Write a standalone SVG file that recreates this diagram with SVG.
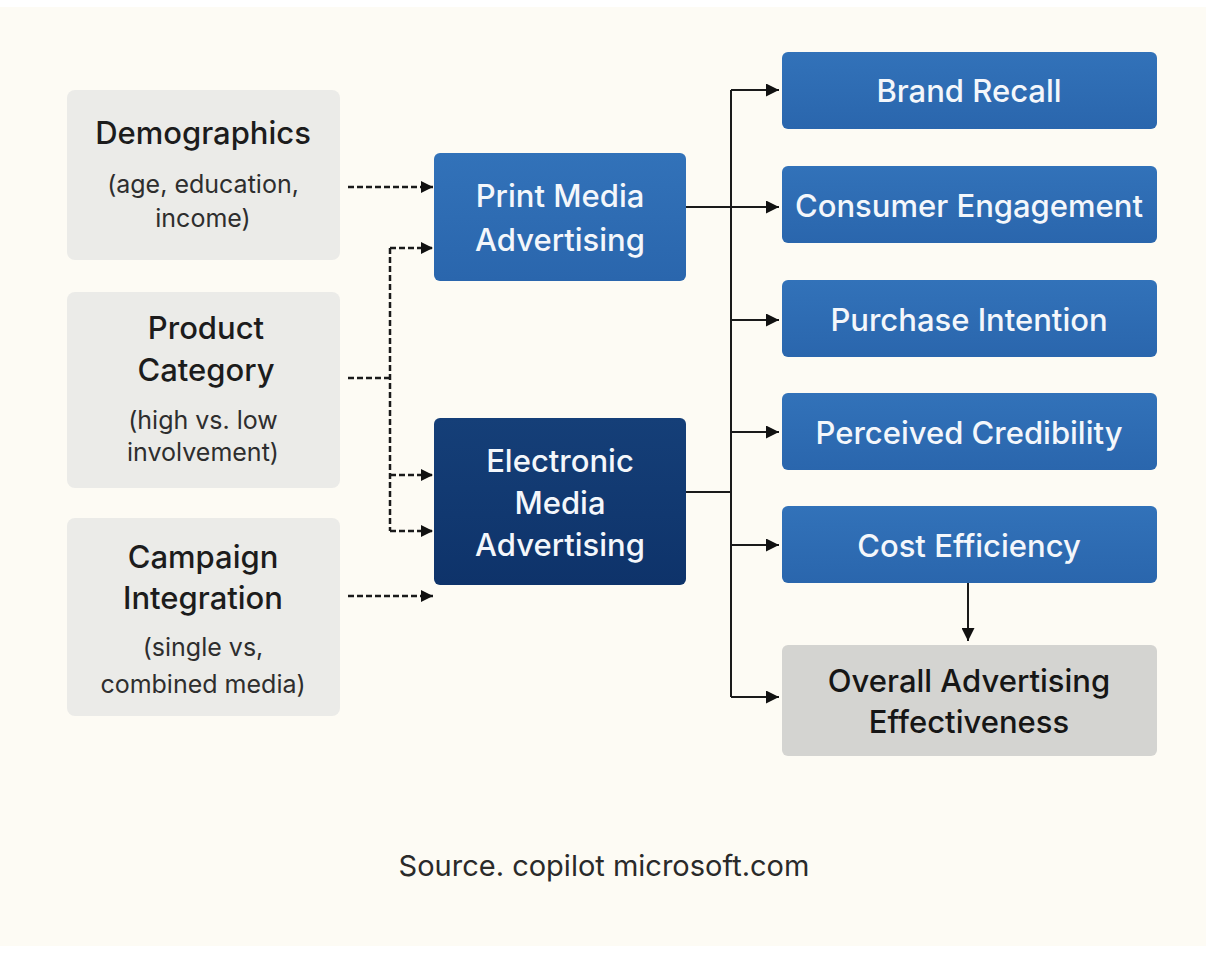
<svg xmlns="http://www.w3.org/2000/svg" width="1206" height="963" viewBox="0 0 1206 963">
  <defs>
    <linearGradient id="gBlue" x1="0" y1="0" x2="0" y2="1">
      <stop offset="0" stop-color="#3272b9"/>
      <stop offset="1" stop-color="#2a66ad"/>
    </linearGradient>
    <linearGradient id="gDark" x1="0" y1="0" x2="0" y2="1">
      <stop offset="0" stop-color="#153f78"/>
      <stop offset="1" stop-color="#0e336a"/>
    </linearGradient>
    <marker id="arr" viewBox="0 0 12 12" refX="12" refY="6" markerWidth="12" markerHeight="12" markerUnits="userSpaceOnUse" orient="auto">
      <path d="M0,0 L12,6 L0,12 z" fill="#111"/>
    </marker>
    <marker id="arrBig" viewBox="0 0 12 12" refX="12" refY="6" markerWidth="13" markerHeight="13" markerUnits="userSpaceOnUse" orient="auto">
      <path d="M0,0 L12,6 L0,12 z" fill="#111"/>
    </marker>
  </defs>
  <style>
    .bg { fill: #fdfbf4; }
    .ctx { fill: #ebebe8; }
    .blue { fill: url(#gBlue); }
    .dark { fill: url(#gDark); }
    .grey { fill: #d4d4d1; }
    text { font-family: "Inter", "Liberation Sans", sans-serif; text-anchor: middle; }
    .h { font-size: 31px; font-weight: 500; fill: #1c1c1c; }
    .s { font-size: 25px; font-weight: 400; fill: #2e2e2e; }
    .w { font-size: 31px; font-weight: 500; fill: #f4f7fb; }
    .ov { font-size: 31px; font-weight: 500; fill: #161616; }
    .src { font-size: 29px; font-weight: 400; fill: #2a2a2a; }
    .solid { stroke: #1a1a1a; stroke-width: 2; fill: none; }
    .dash { stroke: #1a1a1a; stroke-width: 2.5; fill: none; stroke-dasharray: 6 3; }
  </style>

  <rect class="bg" x="0" y="0" width="1206" height="963"/>
  <rect x="0" y="0" width="1206" height="7" fill="#ffffff"/>
  <rect x="0" y="946" width="1206" height="17" fill="#ffffff"/>

  <!-- moderating factors -->
  <g id="demographics">
    <rect class="ctx" x="67" y="90" width="273" height="170" rx="8"/>
    <text class="h" x="203" y="144">Demographics</text>
    <text class="s" x="203" y="193">(age, education,</text>
    <text class="s" x="203" y="227">income)</text>
  </g>
  <g id="product-category">
    <rect class="ctx" x="67" y="292" width="273" height="196" rx="8"/>
    <text class="h" x="206" y="339">Product</text>
    <text class="h" x="206" y="381">Category</text>
    <text class="s" x="203" y="429">(high vs. low</text>
    <text class="s" x="203" y="461">involvement)</text>
  </g>
  <g id="campaign-integration">
    <rect class="ctx" x="67" y="518" width="273" height="198" rx="8"/>
    <text class="h" x="203" y="568">Campaign</text>
    <text class="h" x="203" y="609">Integration</text>
    <text class="s" x="203" y="656">(single vs,</text>
    <text class="s" x="203" y="693">combined media)</text>
  </g>

  <!-- media types -->
  <g id="print-media">
    <rect class="blue" x="434" y="153" width="252" height="128" rx="6"/>
    <text class="w" x="560" y="207">Print Media</text>
    <text class="w" x="560" y="251">Advertising</text>
  </g>
  <g id="electronic-media">
    <rect class="dark" x="434" y="418" width="252" height="167" rx="6"/>
    <text class="w" x="560" y="472">Electronic</text>
    <text class="w" x="560" y="514">Media</text>
    <text class="w" x="560" y="556">Advertising</text>
  </g>

  <!-- outcomes -->
  <g id="brand-recall">
    <rect class="blue" x="782" y="52" width="375" height="77" rx="6"/>
    <text class="w" x="969" y="102">Brand Recall</text>
  </g>
  <g id="consumer-engagement">
    <rect class="blue" x="782" y="166" width="375" height="77" rx="6"/>
    <text class="w" x="969" y="217">Consumer Engagement</text>
  </g>
  <g id="purchase-intention">
    <rect class="blue" x="782" y="280" width="375" height="77" rx="6"/>
    <text class="w" x="969" y="331">Purchase Intention</text>
  </g>
  <g id="perceived-credibility">
    <rect class="blue" x="782" y="393" width="375" height="77" rx="6"/>
    <text class="w" x="969" y="444">Perceived Credibility</text>
  </g>
  <g id="cost-efficiency">
    <rect class="blue" x="782" y="506" width="375" height="77" rx="6"/>
    <text class="w" x="969" y="557">Cost Efficiency</text>
  </g>
  <g id="overall-effectiveness">
    <rect class="grey" x="782" y="645" width="375" height="111" rx="6"/>
    <text class="ov" x="969" y="692">Overall Advertising</text>
    <text class="ov" x="969" y="733">Effectiveness</text>
  </g>

  <!-- connectors -->
  <g id="connectors">
    <!-- moderator links -->
    <path class="dash" d="M348,187 H433" marker-end="url(#arr)"/>
    <path class="dash" d="M348,378 H390"/>
    <path class="dash" d="M390,248 V531"/>
    <path class="dash" d="M390,248 H433" marker-end="url(#arr)"/>
    <path class="dash" d="M390,475 H433" marker-end="url(#arr)"/>
    <path class="dash" d="M390,531 H433" marker-end="url(#arr)"/>
    <path class="dash" d="M348,596 H433" marker-end="url(#arr)"/>

    <!-- media to outcome bus -->
    <path class="solid" d="M686,207 H731"/>
    <path class="solid" d="M686,492 H731"/>
    <path class="solid" d="M731,90 V697"/>
    <path class="solid" d="M731,90 H779" marker-end="url(#arrBig)"/>
    <path class="solid" d="M731,207 H779" marker-end="url(#arrBig)"/>
    <path class="solid" d="M731,320 H779" marker-end="url(#arrBig)"/>
    <path class="solid" d="M731,432 H779" marker-end="url(#arrBig)"/>
    <path class="solid" d="M731,545 H779" marker-end="url(#arrBig)"/>
    <path class="solid" d="M731,697 H779" marker-end="url(#arrBig)"/>
    <path class="solid" d="M968,583 V641" marker-end="url(#arrBig)"/>
  </g>

  <text class="src" x="604" y="876">Source. copilot microsoft.com</text>
</svg>
